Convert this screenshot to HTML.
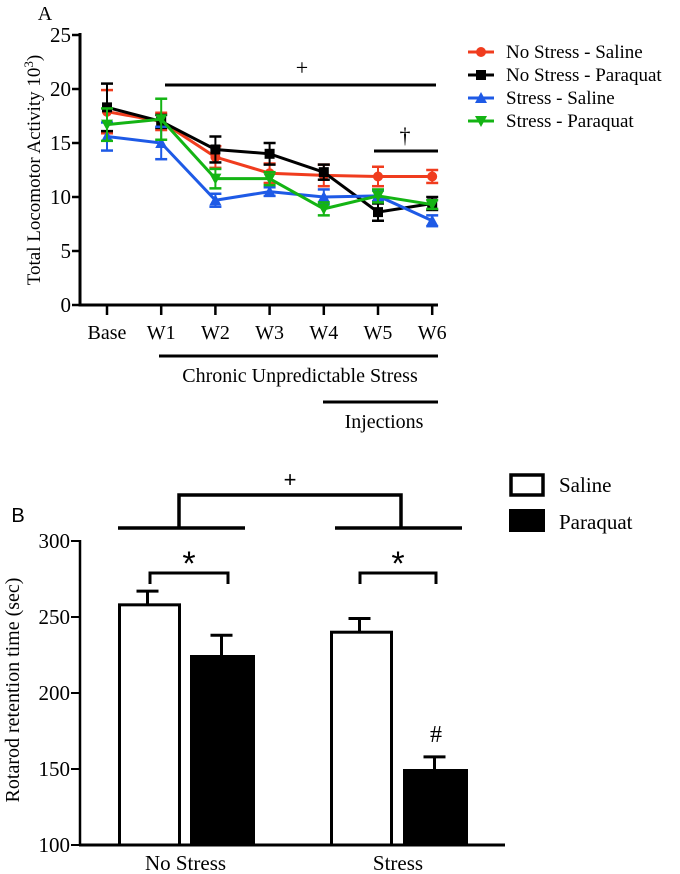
<!DOCTYPE html>
<html><head><meta charset="utf-8"><style>
html,body{margin:0;padding:0;background:#fff;overflow:hidden;}
svg{display:block;font-family:"Liberation Serif",serif;}
</style></head><body>
<svg id="chart" width="680" height="874" viewBox="0 0 680 874" xmlns="http://www.w3.org/2000/svg"></svg>
<script>
const weeks=["Base","W1","W2","W3","W4","W5","W6"];
const nsSaline=[17.9,17.0,13.7,12.2,12.0,11.9,11.9];
const nsSalineErr=[2.0,0.8,1.0,0.9,1.0,0.9,0.6];
const nsParaquat=[18.3,17.0,14.4,14.0,12.3,8.6,9.4];
const nsParaquatErr=[2.2,0.6,1.2,1.0,0.7,0.8,0.6];
const sSaline=[15.6,15.0,9.7,10.5,10.0,10.1,7.8];
const sSalineErr=[1.3,1.5,0.6,0.4,0.7,0.5,0.5];
const sParaquat=[16.7,17.2,11.7,11.7,8.9,10.1,9.3];
const sParaquatErr=[1.5,1.9,0.9,0.6,0.6,0.6,0.4];
const aTicks=[0,5,10,15,20,25];
const groups=["No Stress","Stress"];
const salineB=[258,240];
const salineBErr=[9,9];
const paraquatB=[225,150];
const paraquatBErr=[13,8];
const bTicks=[100,150,200,250,300];

const NS="http://www.w3.org/2000/svg";
const svg=document.getElementById('chart');
function mk(tag,attrs,parent){const e=document.createElementNS(NS,tag);for(const k in attrs)e.setAttribute(k,attrs[k]);(parent||svg).appendChild(e);return e;}
function txt(s,x,y,size,anchor,parent,extra){const t=mk('text',Object.assign({x:x,y:y,'font-size':size,'text-anchor':anchor||'middle',fill:'#000'},extra||{}),parent);t.textContent=s;return t;}

// ---- Panel A ----
const gA=mk('g',{});


const ax=i=>107+i*54.2;
const ay=v=>305-v*10.8;
let t=txt('A',45,20,20,'middle',gA);

mk('line',{x1:80,y1:33,x2:80,y2:306.5,stroke:'#000','stroke-width':3},gA);
mk('line',{x1:78.5,y1:305,x2:438,y2:305,stroke:'#000','stroke-width':3},gA);
aTicks.forEach(v=>{mk('line',{x1:72,y1:ay(v),x2:80,y2:ay(v),stroke:'#000','stroke-width':2.5},gA);
 const l=txt(String(v),71,ay(v)+7,21,'end',gA);});
weeks.forEach((w,i)=>{mk('line',{x1:ax(i),y1:305,x2:ax(i),y2:315,stroke:'#000','stroke-width':2.5},gA);
 const l=txt(w,ax(i),339,20,'middle',gA);});
const yt=mk('text',{x:0,y:0,'font-size':19,'text-anchor':'middle',transform:'translate(40,170) rotate(-90)'},gA);
yt.innerHTML='Total Locomotor Activity 10<tspan dy="-7" font-size="13">3</tspan><tspan dy="7">)</tspan>';

const series=[
 {name:'no-stress-saline',vals:nsSaline,err:nsSalineErr,col:'#f03c1e',mark:'circle'},
 {name:'no-stress-paraquat',vals:nsParaquat,err:nsParaquatErr,col:'#000',mark:'square'},
 {name:'stress-saline',vals:sSaline,err:sSalineErr,col:'#1e5ae6',mark:'tri'},
 {name:'stress-paraquat',vals:sParaquat,err:sParaquatErr,col:'#14b414',mark:'tridown'}];
function marker(type,x,y,col,g){
 if(type==='circle')return mk('circle',{cx:x,cy:y,r:5,fill:col},g);
 if(type==='square')return mk('rect',{x:x-5,y:y-5,width:10,height:10,fill:col},g);
 if(type==='tri')return mk('polygon',{points:`${x-6},${y+5} ${x+6},${y+5} ${x},${y-6}`,fill:col},g);
 return mk('polygon',{points:`${x-6},${y-5} ${x+6},${y-5} ${x},${y+6}`,fill:col},g);}
series.forEach(s=>{
 const g=mk('g',{},gA);
 
 
 s.vals.forEach((v,i)=>{const x=ax(i);
  mk('line',{x1:x,y1:ay(v-s.err[i]),x2:x,y2:ay(v+s.err[i]),stroke:s.col,'stroke-width':2},g);
  [v-s.err[i],v+s.err[i]].forEach(e=>mk('line',{x1:x-6,y1:ay(e),x2:x+6,y2:ay(e),stroke:s.col,'stroke-width':2.5},g));});
 const pl=mk('polyline',{points:s.vals.map((v,i)=>ax(i)+','+ay(v)).join(' '),fill:'none',stroke:s.col,'stroke-width':3},g);
 
 s.vals.forEach((v,i)=>{const m=marker(s.mark,ax(i),ay(v),s.col,g);
  });
});
mk('line',{x1:165,y1:85,x2:436,y2:85,stroke:'#000','stroke-width':3},gA);
txt('+',302,75,22,'middle',gA);
mk('line',{x1:374,y1:151,x2:438,y2:151,stroke:'#000','stroke-width':3},gA);
txt('†',405,143,22,'middle',gA);
mk('line',{x1:159,y1:356,x2:438,y2:356,stroke:'#000','stroke-width':3},gA);
t=txt('Chronic Unpredictable Stress',300,382,20,'middle',gA);
mk('line',{x1:323,y1:402,x2:438,y2:402,stroke:'#000','stroke-width':3},gA);
t=txt('Injections',384,428,20,'middle',gA);
// legend A
const legA=mk('g',{},gA);

const legNames=['No Stress - Saline','No Stress - Paraquat','Stress - Saline','Stress - Paraquat'];
series.forEach((s,i)=>{const y=52+i*23;const g=mk('g',{},legA);
 
 mk('line',{x1:468,y1:y,x2:494,y2:y,stroke:s.col,'stroke-width':3},g);marker(s.mark,481,y,s.col,g);
 txt(legNames[i],506,y+6,19,'start',g);});

// ---- Panel B ----
const gB=mk('g',{});

const by=v=>845-(v-100)*1.52;
const salX=[118,330],parX=[190,403],bw=63;
t=txt('B',18,522,20,'middle',gB,{'font-family':'Liberation Sans, sans-serif'});
bTicks.forEach(v=>{mk('line',{x1:71,y1:by(v),x2:80,y2:by(v),stroke:'#000','stroke-width':2},gB);
 const l=txt(String(v),70,by(v)+7,21,'end',gB);});
const yb=txt('Rotarod retention time (sec)',0,0,20,'middle',gB,{transform:'translate(19,690) rotate(-90)'});

groups.forEach((gname,i)=>{
 const sv=salineB[i],pv=paraquatB[i];
 const sx=salX[i]+bw/2-2, px=parX[i]+bw/2;
 mk('line',{x1:sx,y1:by(sv),x2:sx,y2:by(sv+salineBErr[i]),stroke:'#000','stroke-width':3},gB);
 mk('line',{x1:sx-11,y1:by(sv+salineBErr[i]),x2:sx+11,y2:by(sv+salineBErr[i]),stroke:'#000','stroke-width':3},gB);
 mk('line',{x1:px,y1:by(pv),x2:px,y2:by(pv+paraquatBErr[i]),stroke:'#000','stroke-width':3},gB);
 mk('line',{x1:px-11,y1:by(pv+paraquatBErr[i]),x2:px+11,y2:by(pv+paraquatBErr[i]),stroke:'#000','stroke-width':3},gB);
 const r1=mk('rect',{x:salX[i]+1.5,y:by(sv),width:bw-3,height:by(100)-by(sv),fill:'#fff',stroke:'#000','stroke-width':3},gB);
 
 const r2=mk('rect',{x:parX[i],y:by(pv),width:bw+2,height:by(100)-by(pv),fill:'#000'},gB);
 
 const l=txt(gname,(salX[i]+parX[i]+bw)/2,870,21,'middle',gB);
});
mk('line',{x1:80,y1:540,x2:80,y2:846,stroke:'#000','stroke-width':2.5},gB);
mk('line',{x1:79,y1:845,x2:505,y2:845,stroke:'#000','stroke-width':3},gB);
// brackets
[[150,228],[360,436]].forEach(([a,b])=>{mk('polyline',{points:`${a},584 ${a},573 ${b},573 ${b},584`,fill:'none',stroke:'#000','stroke-width':3},gB);
 txt('*',(a+b)/2,575,34,'middle',gB,{'font-family':'Liberation Sans, sans-serif'});});
txt('#',436,742,24,'middle',gB);
mk('line',{x1:118,y1:528,x2:245,y2:528,stroke:'#000','stroke-width':3.5},gB);
mk('line',{x1:335,y1:528,x2:462,y2:528,stroke:'#000','stroke-width':3.5},gB);
mk('polyline',{points:'179,528 179,495 401,495 401,528',fill:'none',stroke:'#000','stroke-width':3.5},gB);
txt('+',290,487,22,'middle',gB,{'font-family':'Liberation Sans, sans-serif'});
const legB=mk('g',{},gB);

let e1=mk('g',{},legB);
mk('rect',{x:511,y:475,width:32,height:20,fill:'#fff',stroke:'#000','stroke-width':3.5},e1);
txt('Saline',559,492,21,'start',e1);
let e2=mk('g',{},legB);
mk('rect',{x:509,y:509,width:36,height:23,fill:'#000'},e2);
txt('Paraquat',559,529,21,'start',e2);
</script>
</body></html>
